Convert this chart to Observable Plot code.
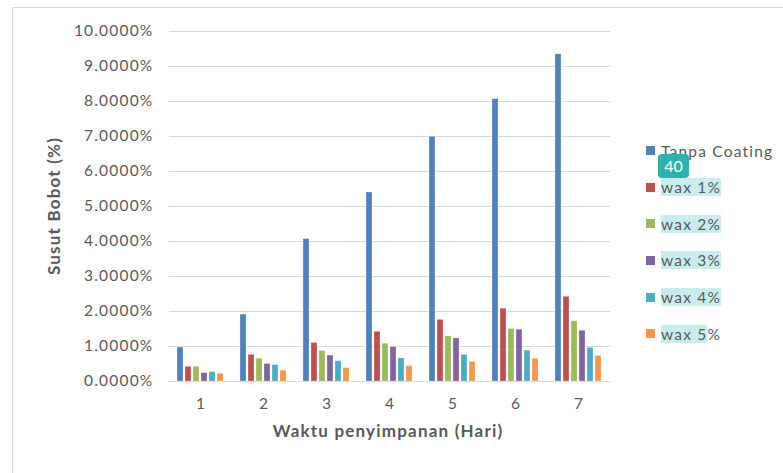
<!DOCTYPE html>
<html>
<head>
<meta charset="utf-8">
<script src="https://cdn.jsdelivr.net/npm/d3@7"></script>
<script src="https://cdn.jsdelivr.net/npm/@observablehq/plot@0.6"></script>
<style>
  html, body { margin: 0; padding: 0; background: #fff; }
  #wrap { position: relative; width: 783px; height: 473px; overflow: hidden; font-family: Lato, "Open Sans", sans-serif; color: #595959; }
  #frame { position: absolute; left: 12px; top: 7px; width: 900px; height: 600px; border: 1px solid #D9D9D9; box-sizing: border-box; }
  #chart { position: absolute; left: 0; top: 0; }
  .ytitle { position: absolute; left: 53px; top: 206px; transform: translate(-50%, -50%) rotate(-90deg); font-weight: bold; font-size: 17px; letter-spacing: 1.2px; white-space: nowrap; }
  .xtitle { position: absolute; left: 388px; top: 430px; transform: translate(-50%, -50%); font-weight: bold; font-size: 17px; letter-spacing: 1.2px; white-space: nowrap; }
  #legend { position: absolute; left: 646px; top: 0; }
  .item { position: absolute; left: 0; display: flex; align-items: center; white-space: nowrap; font-size: 15.5px; letter-spacing: 1.2px; transform: translateY(-50%); }
  .sw { width: 9px; height: 9px; margin-right: 6px; }
  .lab { padding: 0; line-height: 18px; }
  .hl { background: #C9EDEE; }
  #badge { position: absolute; left: 658px; top: 154px; width: 31px; height: 24px; background: #2DB3AD; border-radius: 4px; color: #fff; font-size: 16px; line-height: 24px; text-align: center; }
</style>
</head>
<body>
<div id="wrap">
  <div id="frame"></div>
  <div id="chart"></div>
  <div class="ytitle">Susut Bobot (%)</div>
  <div class="xtitle">Waktu penyimpanan (Hari)</div>
  <div id="legend"></div>
  <div id="badge">40</div>
</div>
<script>
const days = [1, 2, 3, 4, 5, 6, 7];
const series = ["Tanpa Coating", "wax 1%", "wax 2%", "wax 3%", "wax 4%", "wax 5%"];
const tanpaCoating = [0.97, 1.91, 4.07, 5.40, 6.99, 8.07, 9.35];
const wax1 = [0.42, 0.76, 1.10, 1.42, 1.76, 2.08, 2.42];
const wax2 = [0.42, 0.65, 0.87, 1.08, 1.29, 1.50, 1.72];
const wax3 = [0.24, 0.50, 0.74, 0.98, 1.23, 1.48, 1.45];
const wax4 = [0.27, 0.47, 0.58, 0.66, 0.76, 0.88, 0.96];
const wax5 = [0.22, 0.31, 0.38, 0.44, 0.56, 0.65, 0.73];
const yTicks = [0, 1, 2, 3, 4, 5, 6, 7, 8, 9, 10];
const colors = ["#4F81BD", "#C0504D", "#9BBB59", "#8064A2", "#4BACC6", "#F79646"];

const seriesValues = [tanpaCoating, wax1, wax2, wax3, wax4, wax5];
const rows = [];
days.forEach((d, i) => {
  series.forEach((s, j) => rows.push({day: d, series: s, value: seriesValues[j][i]}));
});

const chart = Plot.plot({
  width: 783,
  height: 473,
  marginLeft: 168,
  marginRight: 172,
  marginTop: 31,
  marginBottom: 92,
  style: {fontFamily: "Lato, 'Open Sans', sans-serif", fontSize: "15.5px", letterSpacing: "1.2px", color: "#595959", background: "transparent", overflow: "visible"},
  facet: {data: rows, x: "day"},
  fx: {padding: 0, label: null, tickSize: 0, tickPadding: 16},
  x: {domain: series, axis: null, paddingInner: 0.2, paddingOuter: 0.7},
  y: {domain: [0, 10], ticks: yTicks, tickFormat: d => d.toFixed(4) + "%", tickSize: 0, tickPadding: 16, label: null},
  color: {domain: series, range: colors},
  marks: [
    Plot.ruleY(yTicks, {stroke: "#D9D9D9", strokeWidth: 1.2}),
    Plot.barY(rows, {x: "series", y: "value", fill: "series", stroke: "#ffffff", strokeOpacity: 0.35, strokeWidth: 0.8})
  ]
});
document.getElementById("chart").appendChild(chart);

const legendY = [150.5, 187, 223.5, 260, 297, 333.5];
const legend = document.getElementById("legend");
series.forEach((s, j) => {
  const it = document.createElement("div");
  it.className = "item";
  it.style.top = legendY[j] + "px";
  const sw = document.createElement("div");
  sw.className = "sw";
  sw.style.background = colors[j];
  const lab = document.createElement("span");
  lab.className = "lab";
  if (j === 0) {
    lab.textContent = s;
  } else if (j === series.length - 1) {
    const h = document.createElement("span");
    h.className = "hl";
    h.textContent = s.slice(0, -1);
    lab.appendChild(h);
    lab.appendChild(document.createTextNode(s.slice(-1)));
  } else {
    lab.classList.add("hl");
    lab.textContent = s;
  }
  it.appendChild(sw);
  it.appendChild(lab);
  legend.appendChild(it);
});
</script>
</body>
</html>
